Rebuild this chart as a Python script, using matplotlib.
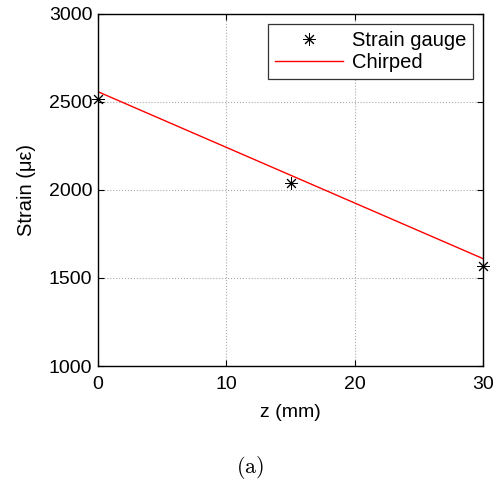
import matplotlib.pyplot as plt

plt.rcParams['font.family'] = ['Liberation Sans', 'DejaVu Sans']
plt.rcParams['mathtext.fontset'] = 'cm'

# gauge readings and chirped fit
z_gauge = [0, 15, 30]
strain_gauge = [2518, 2042, 1568]
z_chirped = [0, 30]
strain_chirped = [2558, 1610]

fig = plt.figure(figsize=(5, 4.83), dpi=100)
ax = fig.add_axes([0.196, 0.2422, 0.77, 0.729])

ax.plot(z_gauge, strain_gauge, linestyle='none', marker=(8, 2, 0),
        markersize=9, color='black', markeredgewidth=0.7, label='Strain gauge',
        clip_on=False, zorder=3)
ax.plot(z_chirped, strain_chirped, color='red', linewidth=1.0, label='Chirped')

ax.set_xlim(0, 30)
ax.set_ylim(1000, 3000)
ax.set_xticks([0, 10, 20, 30])
ax.set_yticks([1000, 1500, 2000, 2500, 3000])
ax.tick_params(direction='in', top=True, right=True, labelsize=14, length=4)
ax.tick_params(axis='x', pad=7)
ax.tick_params(axis='y', pad=4)
ax.grid(True, linestyle=':', color='#aaaaaa', linewidth=0.8)
for s in ax.spines.values():
    s.set_linewidth(1.0)

ax.set_xlabel('z (mm)', fontsize=14, labelpad=8)
ax.set_ylabel('Strain (\u03bc\u03b5)', fontsize=14.5, labelpad=9)

# legend box in the top right corner
leg = ax.legend(loc='upper right', fontsize=14.5, fancybox=False, framealpha=1,
                edgecolor='#333333', borderaxespad=0.5, handlelength=3.4,
                borderpad=0.35, labelspacing=0.15, handletextpad=0.4)
leg.get_frame().set_linewidth(0.9)

fig.text(0.5, 0.033, r'$\mathrm{(a)}$', ha='center', va='center', fontsize=16)

fig.savefig('out.png', dpi=100)
